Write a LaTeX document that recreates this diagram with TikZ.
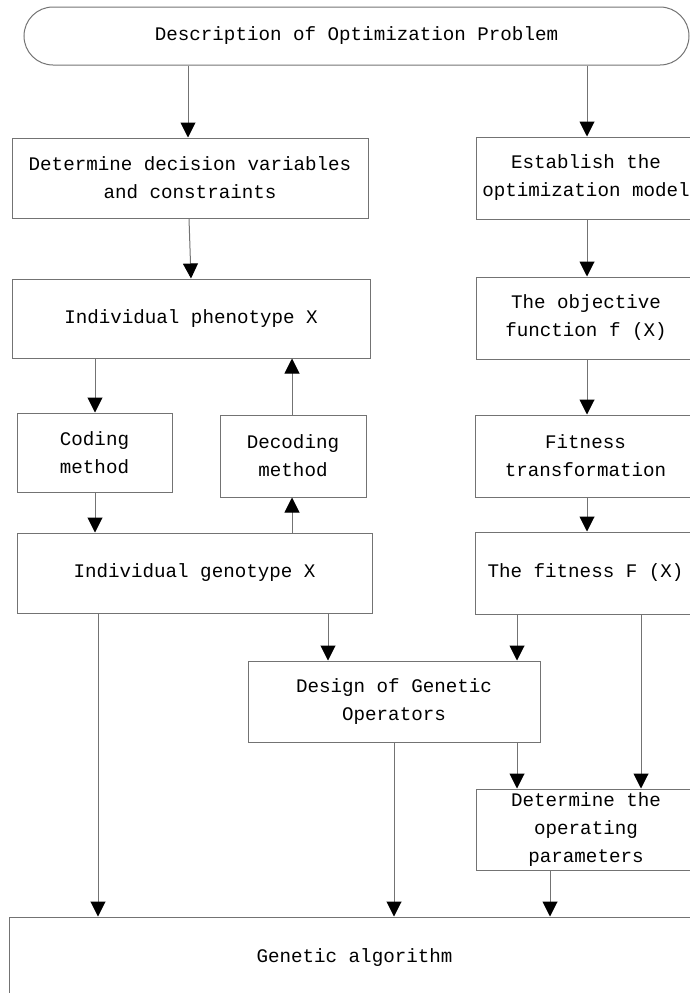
\documentclass[tikz,border=0pt]{standalone}
\usepackage{fontspec}
\setmonofont{Liberation Mono}
\usetikzlibrary{arrows.meta,shapes.misc}

\begin{document}
\begin{tikzpicture}[x=1pt,y=-1pt,
  box/.style={draw=black!55,line width=1pt,rectangle,inner sep=0pt,align=center,
    font=\ttfamily\fontsize{19.2}{28}\selectfont},
  link/.style={draw=black!55,line width=1pt,-{Triangle[length=15pt,width=15pt,color=black]}}]
 \useasboundingbox (0,0) rectangle (690,993);
 \clip (0,0) rectangle (690,993);
  \node[box,rounded rectangle,minimum width=665,minimum height=58] (prob) at (356.5,36)
    {Description of Optimization Problem};
  \node[box,minimum width=356,minimum height=80] (vars) at (190,178)
    {Determine decision variables\\and constraints};
  \node[box,minimum width=220,minimum height=82] (model) at (586,178)
    {Establish the\\optimization model};
  \node[box,minimum width=358,minimum height=79] (pheno) at (191,318.5)
    {Individual phenotype X};
  \node[box,minimum width=220,minimum height=82] (obj) at (586,318)
    {The objective\\function f (X)};
  \node[box,minimum width=155,minimum height=79] (code) at (94.5,452.5)
    {Coding\\method};
  \node[box,minimum width=146,minimum height=82] (decode) at (293,456)
    {Decoding\\method};
  \node[box,minimum width=221,minimum height=82] (trans) at (585.5,456)
    {Fitness\\transformation};
  \node[box,minimum width=355,minimum height=80] (geno) at (194.5,573)
    {Individual genotype X};
  \node[box,minimum width=221,minimum height=82] (fit) at (585.5,573)
    {The fitness F (X)};
  \node[box,minimum width=292,minimum height=81] (oper) at (394,701.5)
    {Design of Genetic\\Operators};
  \node[box,minimum width=220,minimum height=81] (param) at (586,829.5)
    {Determine the\\operating\\parameters};
  \node[box,minimum width=691,minimum height=82] (ga) at (354.5,958)
    {Genetic algorithm};

  \draw[link] (prob.south -| 188,0) -- (vars.north -| 188,0);
  \draw[link] (prob.south -| 587,0) -- (model.north -| 587,0);
  \draw[link] (vars.south -| 189,0) -- (pheno.north -| 191,0);
  \draw[link] (model.south -| 587,0) -- (obj.north -| 587,0);
  \draw[link] (obj.south -| 587,0) -- (trans.north -| 587,0);
  \draw[link] (trans.south -| 587,0) -- (fit.north -| 587,0);
  \draw[link] (pheno.south -| 95,0) -- (code.north -| 95,0);
  \draw[link] (code.south -| 95,0) -- (geno.north -| 95,0);
  \draw[link] (decode.north -| 292,0) -- (pheno.south -| 292,0);
  \draw[link] (geno.north -| 292,0) -- (decode.south -| 292,0);
  \draw[link] (geno.south -| 98,0) -- (ga.north -| 98,0);
  \draw[link] (geno.south -| 328,0) -- (oper.north -| 328,0);
  \draw[link] (fit.south -| 517,0) -- (oper.north -| 517,0);
  \draw[link] (fit.south -| 641,0) -- (param.north -| 641,0);
  \draw[link] (oper.south -| 517,0) -- (param.north -| 517,0);
  \draw[link] (oper.south -| 394,0) -- (ga.north -| 394,0);
  \draw[link] (param.south -| 550,0) -- (ga.north -| 550,0);
\end{tikzpicture}
\end{document}
